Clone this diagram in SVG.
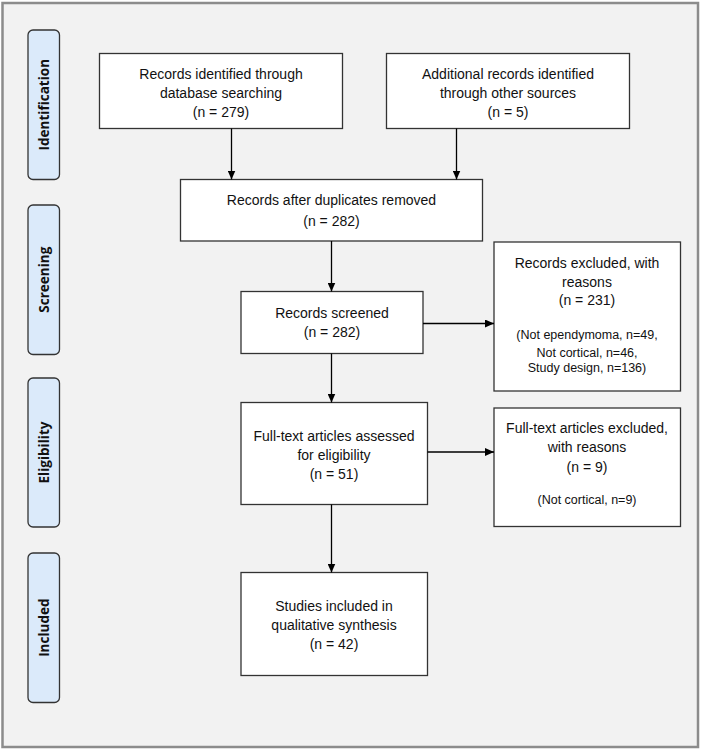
<svg xmlns="http://www.w3.org/2000/svg" width="702" height="751" viewBox="0 0 702 751">
<defs>
<marker id="ah" markerWidth="10" markerHeight="8" refX="9" refY="4" orient="auto" markerUnits="userSpaceOnUse">
<path d="M0,0 L9,4 L0,8 Z" fill="#000"/>
</marker>
</defs>
<style>
.frame{fill:#f2f2f2;stroke:#8c8c8c;stroke-width:2.5}
.lane{fill:#dbeafa;stroke:#333;stroke-width:1.3}
.lt{font-family:"Open Sans","DejaVu Sans",sans-serif;font-weight:bold;font-size:13.5px;fill:#111;text-anchor:middle;dominant-baseline:central}
.box{fill:#fff;stroke:#333;stroke-width:1.3}
.t{font-family:"Liberation Sans",Arial,sans-serif;font-size:14px;fill:#111;text-anchor:middle;dominant-baseline:central}
.s{font-family:"Liberation Sans",Arial,sans-serif;font-size:12.5px;fill:#111;text-anchor:middle;dominant-baseline:central}
.c{stroke:#000;stroke-width:1.3;fill:none;marker-end:url(#ah)}
</style>
<rect class="frame" x="2.5" y="3" width="695.5" height="744"/>

<g id="lane-identification">
<rect class="lane" x="28" y="30" width="31.5" height="149.5" rx="5"/>
<text class="lt" transform="translate(44,104.7) rotate(-90)">Identification</text>
</g>
<g id="lane-screening">
<rect class="lane" x="28" y="205" width="31.5" height="149.5" rx="5"/>
<text class="lt" transform="translate(44,279.7) rotate(-90)">Screening</text>
</g>
<g id="lane-eligibility">
<rect class="lane" x="28" y="378" width="31.5" height="149" rx="5"/>
<text class="lt" transform="translate(44,452.5) rotate(-90)">Eligibility</text>
</g>
<g id="lane-included">
<rect class="lane" x="28" y="553" width="31.5" height="149.5" rx="5"/>
<text class="lt" transform="translate(44,627.7) rotate(-90)">Included</text>
</g>

<g id="n-db">
<rect class="box" x="99.5" y="53.5" width="243" height="75"/>
<text class="t" x="221" y="74">Records identified through</text>
<text class="t" x="221" y="93">database searching</text>
<text class="t" x="221" y="112">(n = 279)</text>
</g>
<g id="n-other">
<rect class="box" x="386.5" y="53.5" width="243" height="75"/>
<text class="t" x="508" y="74">Additional records identified</text>
<text class="t" x="508" y="93">through other sources</text>
<text class="t" x="508" y="112">(n = 5)</text>
</g>
<g id="n-dedup">
<rect class="box" x="180.5" y="179.5" width="302" height="61.5"/>
<text class="t" x="331.5" y="200">Records after duplicates removed</text>
<text class="t" x="331.5" y="220.5">(n = 282)</text>
</g>
<g id="n-screened">
<rect class="box" x="241" y="291.5" width="182" height="62"/>
<text class="t" x="332" y="312.5">Records screened</text>
<text class="t" x="332" y="332">(n = 282)</text>
</g>
<g id="n-excluded">
<rect class="box" x="494" y="242" width="186.5" height="149"/>
<text class="t" x="587" y="262.5">Records excluded, with</text>
<text class="t" x="587" y="281.5">reasons</text>
<text class="t" x="587" y="300">(n = 231)</text>
<text class="s" x="587" y="334.5">(Not ependymoma, n=49,</text>
<text class="s" x="587" y="352.5">Not cortical, n=46,</text>
<text class="s" x="587" y="368">Study design, n=136)</text>
</g>
<g id="n-fulltext">
<rect class="box" x="241" y="402.5" width="186.5" height="102"/>
<text class="t" x="334" y="435.5">Full-text articles assessed</text>
<text class="t" x="334" y="455">for eligibility</text>
<text class="t" x="334" y="473.5">(n = 51)</text>
</g>
<g id="n-ftexcluded">
<rect class="box" x="494" y="408" width="186.5" height="118.5"/>
<text class="t" x="587" y="428">Full-text articles excluded,</text>
<text class="t" x="587" y="447">with reasons</text>
<text class="t" x="587" y="467">(n = 9)</text>
<text class="s" x="587" y="499.5">(Not cortical, n=9)</text>
</g>
<g id="n-included">
<rect class="box" x="241" y="572.5" width="186.5" height="103"/>
<text class="t" x="334" y="606">Studies included in</text>
<text class="t" x="334" y="625">qualitative synthesis</text>
<text class="t" x="334" y="644">(n = 42)</text>
</g>

<g id="connectors">
<line class="c" x1="231.5" y1="128.5" x2="231.5" y2="179.5"/>
<line class="c" x1="456.5" y1="128.5" x2="456.5" y2="179.5"/>
<line class="c" x1="331.5" y1="241" x2="331.5" y2="291.5"/>
<line class="c" x1="423" y1="323.5" x2="494" y2="323.5"/>
<line class="c" x1="331.5" y1="353.5" x2="331.5" y2="402.5"/>
<line class="c" x1="427.5" y1="452" x2="494" y2="452"/>
<line class="c" x1="331.5" y1="504.5" x2="331.5" y2="572.5"/>
</g>
</svg>
